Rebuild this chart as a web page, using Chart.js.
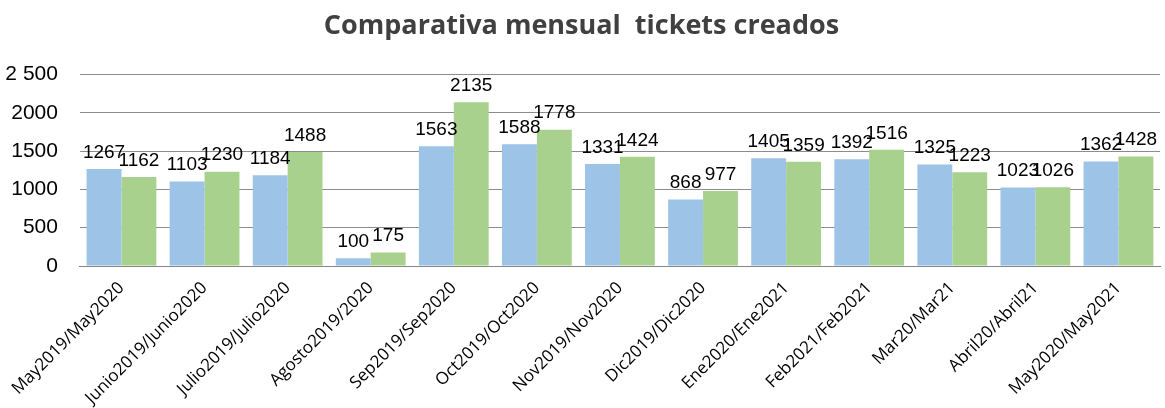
<!DOCTYPE html>
<html><head><meta charset="utf-8">
<script src="https://cdn.jsdelivr.net/npm/chart.js@4"></script>
<style>html,body{margin:0;padding:0;background:#fff}#wrap{width:1165px;height:408px}</style>
</head><body><div id="wrap"><canvas id="c" width="1165" height="408"></canvas></div>
<script>
const categories = ["May2019/May2020","Junio2019/Junio2020","Julio2019/Julio2020","Agosto2019/2020","Sep2019/Sep2020","Oct2019/Oct2020","Nov2019/Nov2020","Dic2019/Dic2020","Ene2020/Ene2021","Feb2021/Feb2021","Mar20/Mar21","Abril20/Abril21","May2020/May2021"];
const seriesPrev = [1267,1103,1184,100,1563,1588,1331,868,1405,1392,1325,1023,1362];
const seriesCurr = [1162,1230,1488,175,2135,1778,1424,977,1359,1516,1223,1026,1428];
const yTickLabels = {0:"0",500:"500",1000:"1000",1500:"1500",2000:"2000",2500:"2 500"};

const labelPlugin = {
  id:'barLabels',
  afterDatasetsDraw(chart){
    const ctx = chart.ctx;
    ctx.save();
    ctx.font = '19px "Liberation Sans"';
    ctx.fillStyle = '#000';
    ctx.textAlign = 'center';
    ctx.textBaseline = 'bottom';
    chart.data.datasets.forEach((ds,i)=>{
      chart.getDatasetMeta(i).data.forEach((bar,j)=>{
        ctx.fillText(String(ds.data[j]), bar.x, bar.y - 7);
      });
    });
    ctx.restore();
  }
};

new Chart(document.getElementById('c'),{
  type:'bar',
  data:{labels:categories,datasets:[
    {label:'2019',data:seriesPrev,backgroundColor:'#9DC3E6',barPercentage:1,categoryPercentage:0.84},
    {label:'2020',data:seriesCurr,backgroundColor:'#A9D18E',barPercentage:1,categoryPercentage:0.84}
  ]},
  options:{
    responsive:false,animation:false,
    layout:{padding:{left:3,right:5,top:0,bottom:0}},
    plugins:{
      legend:{display:false},
      tooltip:{enabled:false},
      title:{display:true,text:'Comparativa mensual  tickets creados',color:'#404040',
        font:{family:'"Open Sans"',size:27,weight:'bold'},padding:{top:10,bottom:32}}
    },
    scales:{
      x:{grid:{display:false,drawTicks:false},border:{color:'#868686',width:1},
        afterFit:s=>{s.height=142;},
        ticks:{color:'#000',minRotation:45,maxRotation:45,padding:12,font:{family:'"Open Sans"',size:17}}},
      y:{min:0,max:2500,grid:{color:'#8c8c8c',drawTicks:false},border:{display:false},
        afterFit:s=>{s.width=76;},
        ticks:{stepSize:500,color:'#000',padding:22,font:{family:'"Liberation Sans"',size:21},
          callback:v=>yTickLabels[v]}}
    }
  },
  plugins:[labelPlugin]
});
</script></body></html>
